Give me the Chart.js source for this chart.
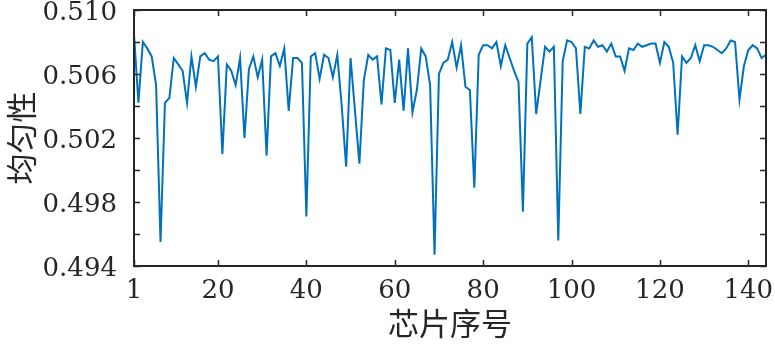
<!DOCTYPE html>
<html><head><meta charset="utf-8">
<script src="https://cdn.jsdelivr.net/npm/chart.js@4.4.1/dist/chart.umd.min.js"></script>
<style>html,body{margin:0;padding:0;background:#fff;}#wrap{width:775px;height:346px;}</style>
</head><body><div id="wrap"><canvas id="c" width="775" height="346"></canvas></div>
<script>
// Uniformity of each chip
const uniformity = [
  0.5085, 0.5042, 0.5080, 0.5076, 0.5071, 0.5053, 0.4955, 0.5042, 0.5045, 0.5070,
  0.5066, 0.5062, 0.5042, 0.5071, 0.5052, 0.5071, 0.5073, 0.5069, 0.5068, 0.5071,
  0.5010, 0.5066, 0.5062, 0.5053, 0.5070, 0.5020, 0.5063, 0.5071, 0.5058, 0.5069,
  0.5009, 0.5071, 0.5073, 0.5065, 0.5076, 0.5037, 0.5070, 0.5070, 0.5067, 0.4971,
  0.5071, 0.5073, 0.5057, 0.5072, 0.5070, 0.5058, 0.5072, 0.5040, 0.5002, 0.5070,
  0.5037, 0.5004, 0.5056, 0.5072, 0.5069, 0.5071, 0.5041, 0.5076, 0.5075, 0.5042,
  0.5069, 0.5037, 0.5076, 0.5036, 0.5050, 0.5076, 0.5071, 0.5053, 0.4947, 0.5060,
  0.5067, 0.5069, 0.5080, 0.5064, 0.5078, 0.5052, 0.5050, 0.4989, 0.5072, 0.5078,
  0.5078, 0.5076, 0.5080, 0.5065, 0.5078, 0.5070, 0.5062, 0.5055, 0.4974, 0.5079,
  0.5083, 0.5035, 0.5056, 0.5077, 0.5074, 0.5077, 0.4956, 0.5068, 0.5081, 0.5080,
  0.5076, 0.5035, 0.5077, 0.5076, 0.5081, 0.5077, 0.5078, 0.5074, 0.5079, 0.5071,
  0.5071, 0.5062, 0.5076, 0.5075, 0.5079, 0.5077, 0.5078, 0.5079, 0.5079, 0.5067,
  0.5080, 0.5077, 0.5067, 0.5022, 0.5071, 0.5067, 0.5070, 0.5078, 0.5068, 0.5078,
  0.5078, 0.5077, 0.5075, 0.5073, 0.5076, 0.5081, 0.5080, 0.5044, 0.5065, 0.5075,
  0.5078, 0.5076, 0.5070, 0.5072
];
// Chip serial numbers (categories)
const chipIds = uniformity.map((_, i) => i + 1);
const xTickValues = [1, 20, 40, 60, 80, 100, 120, 140];
const yTickValues = [0.494, 0.496, 0.498, 0.500, 0.502, 0.504, 0.506, 0.508, 0.510];
const yTickLabels = ['0.494', '', '0.498', '', '0.502', '', '0.506', '', '0.510'];
const xTitle = '芯片序号';
const yTitle = '均匀性';

const points = chipIds.map((id, i) => ({x: id, y: uniformity[i]}));

const boxPlugin = {
  id: 'boxPlugin',
  afterDatasetsDraw(chart) {
    const {ctx, chartArea: a, scales: {x, y}} = chart;
    const L = 6;
    ctx.save();
    ctx.strokeStyle = '#262626';
    ctx.lineWidth = 1.5;
    ctx.beginPath();
    x.ticks.forEach(t => {
      const px = Math.round(x.getPixelForValue(t.value)) + 0.5;
      ctx.moveTo(px, a.bottom); ctx.lineTo(px, a.bottom - L);
      ctx.moveTo(px, a.top); ctx.lineTo(px, a.top + L);
    });
    y.ticks.forEach(t => {
      const py = Math.round(y.getPixelForValue(t.value)) + 0.5;
      ctx.moveTo(a.left, py); ctx.lineTo(a.left + L, py);
      ctx.moveTo(a.right, py); ctx.lineTo(a.right - L, py);
    });
    ctx.stroke();
    ctx.lineWidth = 2;
    ctx.strokeRect(a.left, a.top, a.right - a.left, a.bottom - a.top);
    ctx.restore();
  }
};

const tickFont = {family: '"DejaVu Serif", "Liberation Serif", serif', size: 26};
const titleFont = {family: '"Noto Sans CJK SC", sans-serif', size: 31};

new Chart(document.getElementById('c'), {
  type: 'line',
  data: {
    datasets: [{
      data: points,
      borderColor: '#0072BD',
      borderWidth: 2,
      pointRadius: 0,
      tension: 0,
      fill: false
    }]
  },
  options: {
    responsive: false,
    devicePixelRatio: 1,
    animation: false,
    layout: {padding: {top: 10, right: 9, left: 0, bottom: 0}},
    plugins: {legend: {display: false}, tooltip: {enabled: false}},
    scales: {
      x: {
        type: 'linear',
        min: 1,
        max: 144,
        grid: {display: false, drawTicks: false},
        border: {display: false},
        afterBuildTicks: s => { s.ticks = xTickValues.map(v => ({value: v})); },
        afterFit: s => { s.height = 80; s.paddingLeft = 0; s.paddingRight = 0; },
        ticks: {
          autoSkip: false, maxRotation: 0, padding: 10,
          color: '#262626', font: tickFont,
          callback: v => String(v)
        },
        title: {display: true, text: xTitle, color: '#262626', font: titleFont, padding: {top: 0, bottom: 4}}
      },
      y: {
        type: 'linear',
        min: 0.494,
        max: 0.510,
        grid: {display: false, drawTicks: false},
        border: {display: false},
        afterBuildTicks: s => { s.ticks = yTickValues.map(v => ({value: v})); },
        afterFit: s => { s.width = 134; s.paddingTop = 0; s.paddingBottom = 0; },
        ticks: {
          autoSkip: false, padding: 17, labelOffset: 3,
          color: '#262626', font: tickFont,
          callback: (v, i) => yTickLabels[i]
        },
        title: {display: true, text: yTitle, color: '#262626', font: titleFont, padding: {top: 3, bottom: 0}}
      }
    }
  },
  plugins: [boxPlugin]
});
</script>
</body></html>
